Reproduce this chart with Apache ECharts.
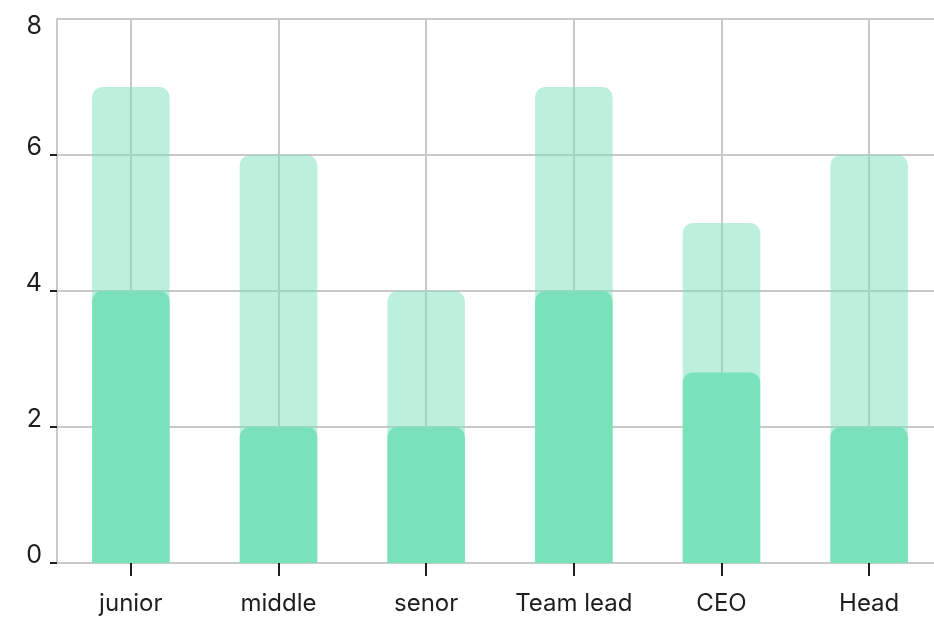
<!DOCTYPE html>
<html>
<head>
<meta charset="utf-8">
<script src="https://cdn.jsdelivr.net/npm/echarts@6/dist/echarts.min.js"></script>
<style>
  html, body { margin: 0; padding: 0; background: #fff; }
  #chart { width: 934px; height: 621px; }
</style>
</head>
<body>
<div id="chart"></div>
<script>
var categories = ['junior', 'middle', 'senor', 'Team lead', 'CEO', 'Head'];
var totalValues = [7, 6, 4, 7, 5, 6];
var currentValues = [4, 2, 2, 4, 2.8, 2];
var yTicks = [0, 2, 4, 6, 8];

var barColor = '#7ae2ba';
var gridColor = '#c9c9c9';
var textColor = '#1e1e1e';
var yMax = yTicks[yTicks.length - 1];

var chart = echarts.init(document.getElementById('chart'));
var option = {
    animation: false,
    grid: {
        left: 57,
        top: 19,
        width: 886,
        bottom: 58,
        outerBoundsMode: 'none'
    },
    xAxis: {
        type: 'category',
        data: categories,
        axisLine: { show: true, lineStyle: { color: gridColor, width: 2 } },
        axisTick: { show: true, interval: 0, alignWithLabel: true, length: 13, lineStyle: { color: textColor, width: 2 } },
        splitLine: { show: true, interval: 0, alignWithLabel: true, lineStyle: { color: gridColor, width: 2 } },
        axisLabel: {
            interval: 0,
            color: textColor,
            fontFamily: 'Inter',
            fontSize: 24,
            margin: 29
        }
    },
    yAxis: [
        {
            type: 'value',
            position: 'left',
            min: yTicks[0],
            max: yMax,
            interval: 2,
            axisLine: { show: true, lineStyle: { color: gridColor, width: 2 } },
            axisTick: { show: true, length: 7, lineStyle: { color: textColor, width: 2 } },
            splitLine: { show: true, lineStyle: { color: gridColor, width: 2 } },
            axisLabel: {
                color: textColor,
                fontFamily: 'Inter',
                fontSize: 25,
                margin: 15,
                verticalAlign: 'bottom',
                lineHeight: 16,
                showMaxLabel: false,
                formatter: function (v) { return v === yMax ? '' : String(v); }
            }
        },
        {
            // only carries the top label, which sits below its line
            type: 'value',
            position: 'left',
            min: yTicks[0],
            max: yMax,
            interval: 2,
            axisLine: { show: false },
            axisTick: { show: false },
            splitLine: { show: false },
            axisLabel: {
                color: textColor,
                fontFamily: 'Inter',
                fontSize: 25,
                margin: 15,
                verticalAlign: 'top',
                lineHeight: 14,
                formatter: function (v) { return v === yMax ? String(v) : ''; }
            }
        }
    ],
    series: [
        {
            name: 'total',
            type: 'bar',
            data: totalValues,
            barWidth: '52.5%',
            barGap: '-100%',
            itemStyle: { color: barColor, opacity: 0.5, borderRadius: [10, 10, 0, 0] }
        },
        {
            name: 'current',
            type: 'bar',
            data: currentValues,
            barWidth: '52.5%',
            barGap: '-100%',
            itemStyle: { color: barColor, borderRadius: [10, 10, 0, 0] }
        }
    ]
};
chart.setOption(option);
</script>
</body>
</html>
